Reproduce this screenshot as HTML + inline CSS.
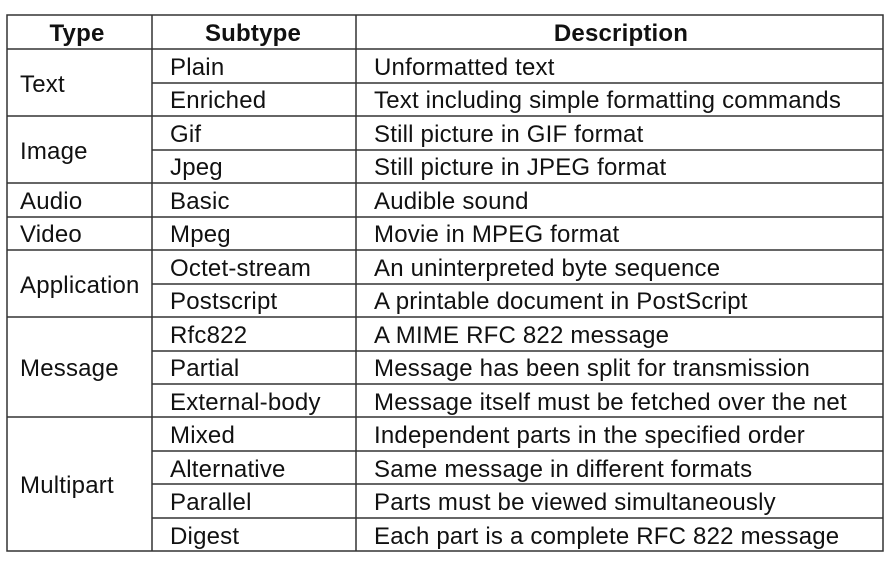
<!DOCTYPE html>
<html><head><style>
body{margin:0;background:#fff;}
svg text{font-family:"Liberation Sans",Arial,sans-serif;font-size:24px;letter-spacing:0.2px;fill:#111;}
</style></head><body>
<svg width="894" height="563" xmlns="http://www.w3.org/2000/svg">
<g stroke="#333" stroke-width="1.5" fill="none">
<rect x="7" y="15" width="876" height="536"/>
<line x1="152" y1="15" x2="152" y2="551"/>
<line x1="356" y1="15" x2="356" y2="551"/>
<line x1="7" y1="49" x2="883" y2="49"/>
<line x1="152" y1="83" x2="883" y2="83"/>
<line x1="7" y1="116" x2="883" y2="116"/>
<line x1="152" y1="150" x2="883" y2="150"/>
<line x1="7" y1="183" x2="883" y2="183"/>
<line x1="7" y1="217" x2="883" y2="217"/>
<line x1="7" y1="250" x2="883" y2="250"/>
<line x1="152" y1="284" x2="883" y2="284"/>
<line x1="7" y1="317" x2="883" y2="317"/>
<line x1="152" y1="351" x2="883" y2="351"/>
<line x1="152" y1="384" x2="883" y2="384"/>
<line x1="7" y1="417" x2="883" y2="417"/>
<line x1="152" y1="451" x2="883" y2="451"/>
<line x1="152" y1="484" x2="883" y2="484"/>
<line x1="152" y1="518" x2="883" y2="518"/>
</g>
<g text-anchor="middle">
<text x="77" y="41" style="font-weight:bold">Type</text>
<text x="253" y="41" style="font-weight:bold">Subtype</text>
<text x="621" y="41" style="font-weight:bold">Description</text>
</g>
<g>
<text x="20" y="92">Text</text>
<text x="20" y="159">Image</text>
<text x="20" y="209">Audio</text>
<text x="20" y="242">Video</text>
<text x="20" y="293">Application</text>
<text x="20" y="376">Message</text>
<text x="20" y="493">Multipart</text>
</g>
<g>
<text x="170" y="75">Plain</text>
<text x="170" y="108">Enriched</text>
<text x="170" y="142">Gif</text>
<text x="170" y="175">Jpeg</text>
<text x="170" y="209">Basic</text>
<text x="170" y="242">Mpeg</text>
<text x="170" y="276">Octet-stream</text>
<text x="170" y="309">Postscript</text>
<text x="170" y="343">Rfc822</text>
<text x="170" y="376">Partial</text>
<text x="170" y="410">External-body</text>
<text x="170" y="443">Mixed</text>
<text x="170" y="477">Alternative</text>
<text x="170" y="510">Parallel</text>
<text x="170" y="544">Digest</text>
</g>
<g>
<text x="374" y="75">Unformatted text</text>
<text x="374" y="108">Text including simple formatting commands</text>
<text x="374" y="142">Still picture in GIF format</text>
<text x="374" y="175">Still picture in JPEG format</text>
<text x="374" y="209">Audible sound</text>
<text x="374" y="242">Movie in MPEG format</text>
<text x="374" y="276">An uninterpreted byte sequence</text>
<text x="374" y="309">A printable document in PostScript</text>
<text x="374" y="343">A MIME RFC 822 message</text>
<text x="374" y="376">Message has been split for transmission</text>
<text x="374" y="410">Message itself must be fetched over the net</text>
<text x="374" y="443">Independent parts in the specified order</text>
<text x="374" y="477">Same message in different formats</text>
<text x="374" y="510">Parts must be viewed simultaneously</text>
<text x="374" y="544">Each part is a complete RFC 822 message</text>
</g>
</svg>
</body></html>
